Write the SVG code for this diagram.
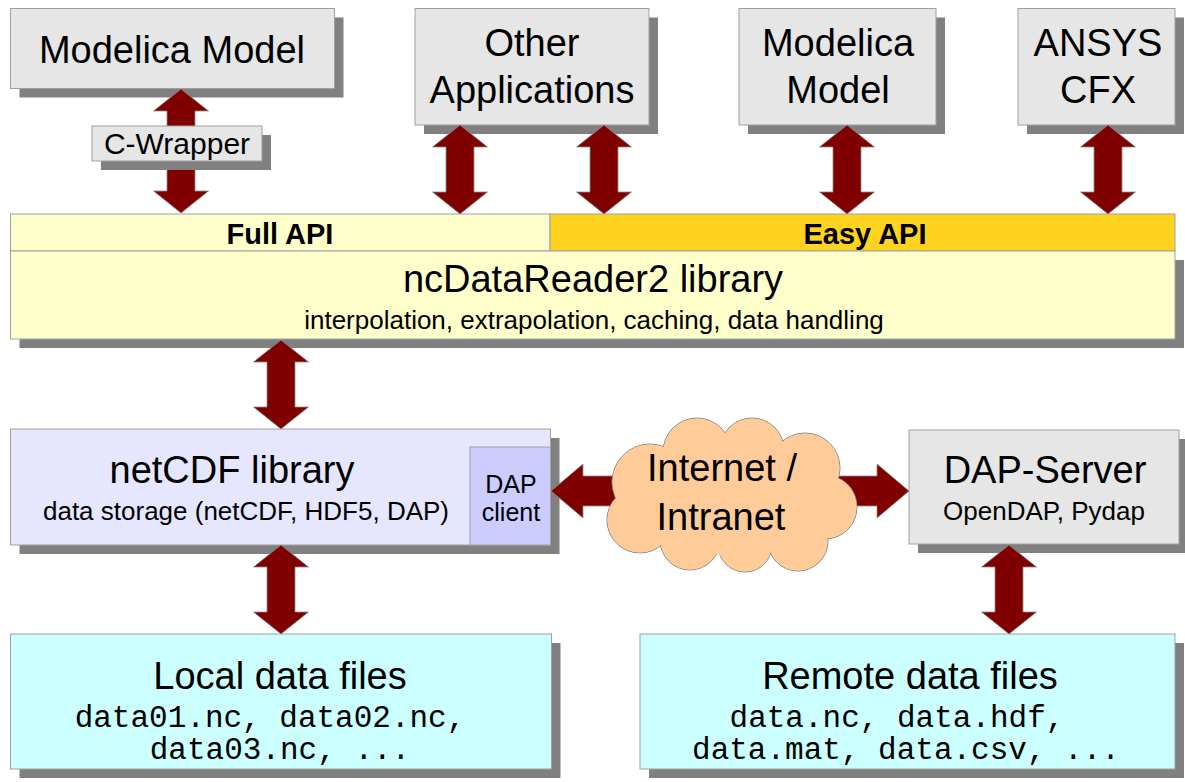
<svg xmlns="http://www.w3.org/2000/svg" width="1185" height="782" viewBox="0 0 1185 782">
<defs>
<style>
.box{stroke:#a0a0a0;stroke-width:1}
.gray{fill:#e6e6e6}
.sh{fill:#808080}
.arr{fill:#800000;stroke:#8a8a8a;stroke-width:0.8}
text{font-family:"Liberation Sans",Arial,sans-serif;fill:#000;text-anchor:middle}
.t38{font-size:38px}
.t26{font-size:26px}
.t25{font-size:25px}
.t30{font-size:30px}
.bold{font-size:29px;font-weight:bold}
.mono{font-family:"Liberation Mono","Courier New",monospace;font-size:31px}
</style>
</defs>
<rect width="1185" height="782" fill="#fff"/>

<g id="modelica1">
<rect class="sh" x="19.5" y="17.5" width="324" height="80"/>
<rect class="box gray" x="10.5" y="8.5" width="324" height="80"/>
<text class="t38" x="172" y="63">Modelica Model</text>
</g>

<g id="otherapps">
<rect class="sh" x="424" y="17.5" width="234" height="116.5"/>
<rect class="box gray" x="415" y="8.5" width="234" height="116.5"/>
<text class="t38" x="532" y="56">Other</text>
<text class="t38" x="532" y="103">Applications</text>
</g>

<g id="modelica2">
<rect class="sh" x="748" y="17.5" width="197" height="116.5"/>
<rect class="box gray" x="739" y="8.5" width="197" height="116.5"/>
<text class="t38" x="838" y="56">Modelica</text>
<text class="t38" x="838" y="103">Model</text>
</g>

<g id="ansys">
<rect class="sh" x="1027" y="17.5" width="157" height="116.5"/>
<rect class="box gray" x="1018" y="8.5" width="157" height="116.5"/>
<text class="t38" x="1098" y="56">ANSYS</text>
<text class="t38" x="1098" y="103">CFX</text>
</g>

<g id="library">
<rect class="sh" x="19.5" y="260" width="1164.5" height="88"/>
<rect class="box" fill="#ffffcc" x="10.5" y="214" width="539.5" height="37"/>
<rect class="box" fill="#ffd320" x="550" y="214" width="625" height="37"/>
<rect class="box" fill="#ffffcc" x="10.5" y="251" width="1164.5" height="88"/>
<text class="bold" x="280" y="244">Full API</text>
<text class="bold" x="865" y="244">Easy API</text>
<text class="t38" x="593" y="292">ncDataReader2 library</text>
<text class="t26" x="594" y="329">interpolation, extrapolation, caching, data handling</text>
</g>

<g id="netcdf">
<rect class="sh" x="19.5" y="438" width="540" height="116"/>
<rect class="box" fill="#e6e6ff" x="10.5" y="429" width="540" height="116"/>
<rect class="box" fill="#ccccff" x="470" y="447" width="80.5" height="98"/>
<text class="t38" x="232" y="483">netCDF library</text>
<text class="t26" x="246" y="520">data storage (netCDF, HDF5, DAP)</text>
<text class="t25" x="511" y="493">DAP</text>
<text class="t25" x="511" y="521">client</text>
</g>

<g id="dapserver">
<rect class="sh" x="918" y="439" width="270" height="114"/>
<rect class="box gray" x="909" y="430" width="270" height="114"/>
<text class="t38" x="1045" y="483">DAP-Server</text>
<text class="t26" x="1044" y="520">OpenDAP, Pydap</text>
</g>

<g id="localfiles">
<rect class="sh" x="19.5" y="643" width="541" height="135"/>
<rect class="box" fill="#ccffff" x="10.5" y="634" width="541" height="135"/>
<text class="t38" x="280" y="689">Local data files</text>
<text class="mono" x="270" y="727">data01.nc, data02.nc,</text>
<text class="mono" x="280" y="759">data03.nc, ...</text>
</g>

<g id="remotefiles">
<rect class="sh" x="649" y="643" width="535" height="135"/>
<rect class="box" fill="#ccffff" x="640" y="634" width="535" height="135"/>
<text class="t38" x="910" y="689">Remote data files</text>
<text class="mono" x="897" y="727">data.nc, data.hdf,</text>
<text class="mono" x="906" y="759">data.mat, data.csv, ...</text>
</g>

<g id="connectors">
<polygon class="arr" points="181,89 208.5,111 195,111 195,191 208.5,191 181,213 153.5,191 167,191 167,111 153.5,111"/>
<polygon class="arr" points="460,125 487.5,147 474,147 474,192 487.5,192 460,214 432.5,192 446,192 446,147 432.5,147"/>
<polygon class="arr" points="604,125 631.5,147 618,147 618,192 631.5,192 604,214 576.5,192 590,192 590,147 576.5,147"/>
<polygon class="arr" points="847,125 874.5,147 861,147 861,192 874.5,192 847,214 819.5,192 833,192 833,147 819.5,147"/>
<polygon class="arr" points="1108,125 1135.5,147 1122,147 1122,192 1135.5,192 1108,214 1080.5,192 1094,192 1094,147 1080.5,147"/>
<polygon class="arr" points="281,340 308.5,362 295,362 295,407 308.5,407 281,429 253.5,407 267,407 267,362 253.5,362"/>
<polygon class="arr" points="281,545 308.5,567 295,567 295,612 308.5,612 281,634 253.5,612 267,612 267,567 253.5,567"/>
<polygon class="arr" points="1009,545 1036.5,567 1023,567 1023,612 1036.5,612 1009,634 981.5,612 995,612 995,567 981.5,567"/>
<polygon class="arr" points="551,491 583,464 583,476 877,476 877,464 909,491 877,518 877,506 583,506 583,518"/>
</g>

<g id="cwrapper">
<rect class="sh" x="101" y="135" width="170" height="35"/>
<rect class="box gray" x="92" y="126" width="170" height="35"/>
<text class="t30" x="177" y="154">C-Wrapper</text>
</g>

<g id="cloud">
<g fill="#ffcc99" stroke="#8a8a8a" stroke-width="1">
<circle cx="650" cy="482" r="38"/>
<circle cx="697" cy="452" r="34"/>
<circle cx="752" cy="450" r="32"/>
<circle cx="805" cy="468" r="35"/>
<circle cx="825" cy="507" r="32"/>
<circle cx="798" cy="541" r="30"/>
<circle cx="745" cy="545" r="27"/>
<circle cx="690" cy="540" r="30"/>
<circle cx="640" cy="520" r="33"/>
</g>
<g fill="#ffcc99">
<circle cx="650" cy="482" r="37.5"/>
<circle cx="697" cy="452" r="33.5"/>
<circle cx="752" cy="450" r="31.5"/>
<circle cx="805" cy="468" r="34.5"/>
<circle cx="825" cy="507" r="31.5"/>
<circle cx="798" cy="541" r="29.5"/>
<circle cx="745" cy="545" r="26.5"/>
<circle cx="690" cy="540" r="29.5"/>
<circle cx="640" cy="520" r="32.5"/>
<ellipse cx="730" cy="495" rx="95" ry="60"/>
</g>
<text class="t38" x="722" y="481">Internet /</text>
<text class="t38" x="721" y="530">Intranet</text>
</g>
</svg>
